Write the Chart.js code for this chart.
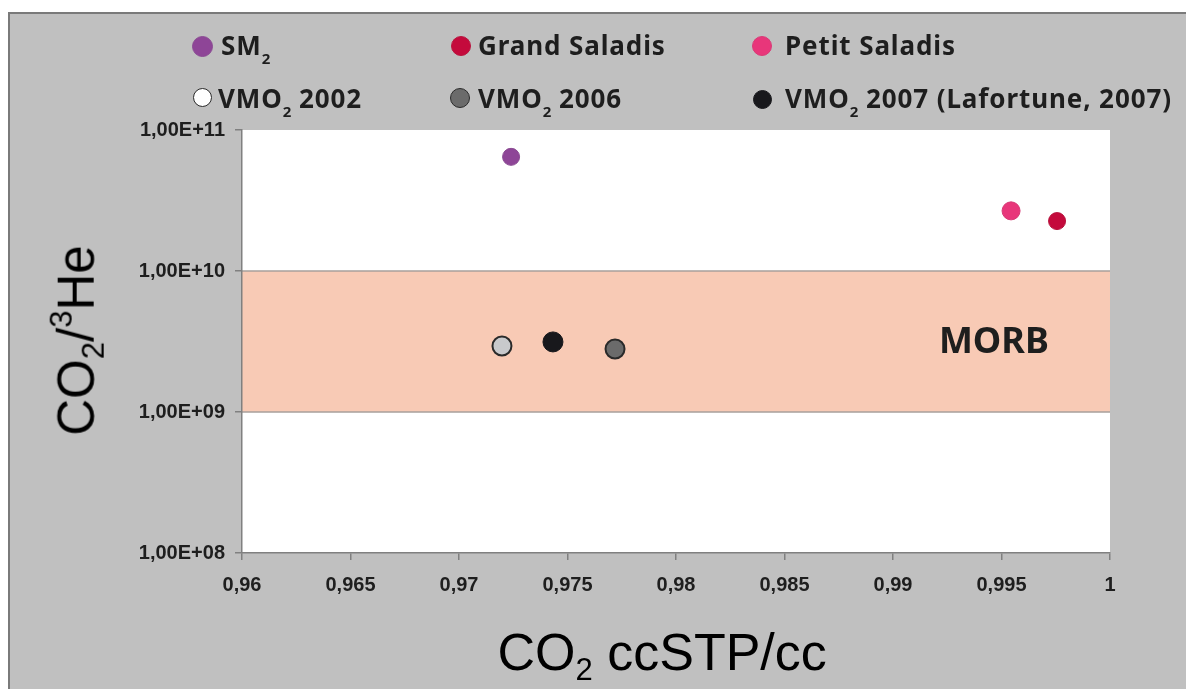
<!DOCTYPE html>
<html>
<head>
<meta charset="utf-8">
<script src="https://cdn.jsdelivr.net/npm/chart.js@4.4.1/dist/chart.umd.min.js"></script>
<style>
  html, body { margin: 0; padding: 0; background: #fff; overflow: hidden; }
  body { width: 1186px; height: 689px; position: relative; }
  #frame { position: absolute; left: 8px; top: 12px; right: 0; bottom: 0; background: #c0c0c0; border-left: 2px solid #7a7a7a; border-top: 2px solid #7a7a7a; }
  #wrap { position: absolute; left: 0; top: 0; width: 1186px; height: 689px; }
  #legend { position: absolute; left: 0; top: 0; font-family: "Noto Sans", "Open Sans", sans-serif; font-weight: 700; font-size: 26px; letter-spacing: 0.9px; color: #1e1e1e; }
  .dot { position: absolute; border-radius: 50%; box-sizing: border-box; }
  .label { position: absolute; white-space: nowrap; line-height: 30px; height: 30px; }
  #legend sub { font-size: 15px; vertical-align: -9px; line-height: 0; letter-spacing: 0; }
  .title { position: absolute; font-family: "Liberation Sans", Arial, sans-serif; color: #000; white-space: nowrap; line-height: 1; }
  .title sub { font-size: 31px; vertical-align: -10px; line-height: 0; }
  .title sup { font-size: 31px; vertical-align: 22px; line-height: 0; }
</style>
</head>
<body>
<div id="frame"></div>
<div id="wrap"><canvas id="co2chart"></canvas></div>
<div id="legend"></div>
<div class="title" id="xtitle">CO<sub>2</sub> ccSTP/cc</div>
<div class="title" id="ytitle">CO<sub>2</sub>/<sup>3</sup>He</div>
<script>
// data
const seriesNames = ['SM<sub>2</sub>', 'Grand Saladis', 'Petit Saladis', 'VMO<sub>2</sub> 2002', 'VMO<sub>2</sub> 2006', 'VMO<sub>2</sub> 2007 (Lafortune, 2007)'];
const seriesX = [0.9724, 0.99756, 0.99544, 0.97198, 0.97719, 0.97433];
const seriesY = [6.45e10, 2.26e10, 2.67e10, 2.94e9, 2.80e9, 3.14e9];
const xTicks = [0.96, 0.965, 0.97, 0.975, 0.98, 0.985, 0.99, 0.995, 1];
const xTickLabels = ['0,96', '0,965', '0,97', '0,975', '0,98', '0,985', '0,99', '0,995', '1'];
const yTicks = [1e8, 1e9, 1e10, 1e11];
const yTickLabels = ['1,00E+08', '1,00E+09', '1,00E+10', '1,00E+11'];
const morbRange = [1e9, 1e10];
const morbLabel = 'MORB';
const morbLabelAt = [0.99465, 3.1e9];

// styles
const pointFill = ['#8e4597', '#c40a3c', '#e8367a', '#c8c9cc', '#6b6b6b', '#18181c'];
const pointBorder = ['#8a4a92', '#b8143e', '#d83a76', '#2a2a2a', '#2a2a2a', '#18181c'];
const pointBorderW = [1, 1, 1, 2, 2, 1];
const pointRadius = [8.5, 8.5, 9, 9.5, 9.5, 10];
const legendFill = ['#8e4597', '#c40a3c', '#e8367a', '#ffffff', '#6b6b6b', '#18181c'];
// dot x, dot y, diameter, text x, text middle y
const legendPos = [
    [202, 46, 21, 221, 45], [461, 46, 20, 478, 45], [762, 46, 20, 785, 45],
    [202, 97, 19, 218, 98], [460, 98, 20, 478, 98], [762, 99, 19, 785, 98]
];

// legend (html so the subscripts look right)
const legendEl = document.getElementById('legend');
seriesNames.forEach((name, i) => {
    const [cx, cy, d, tx, ty] = legendPos[i];
    const dot = document.createElement('span');
    dot.className = 'dot';
    dot.style.left = (cx - d / 2) + 'px';
    dot.style.top = (cy - d / 2) + 'px';
    dot.style.width = d + 'px';
    dot.style.height = d + 'px';
    dot.style.background = legendFill[i];
    dot.style.border = '1.5px solid ' + (i === 3 ? '#2a2a2a' : pointBorder[i]);
    legendEl.appendChild(dot);
    const txt = document.createElement('span');
    txt.className = 'label';
    txt.style.left = tx + 'px';
    txt.style.top = (ty - 15) + 'px';
    txt.innerHTML = name;
    legendEl.appendChild(txt);
});

const xt = document.getElementById('xtitle');
xt.style.fontSize = '52px';
const yt = document.getElementById('ytitle');
yt.style.fontSize = '51px';

const bandPlugin = {
    id: 'morbBand',
    beforeDraw(chart) {
        const {ctx, chartArea: a, scales: {x, y}} = chart;
        ctx.save();
        ctx.fillStyle = '#ffffff';
        ctx.fillRect(a.left, a.top, a.right - a.left, a.bottom - a.top);
        const yTop = y.getPixelForValue(morbRange[1]);
        const yBot = y.getPixelForValue(morbRange[0]);
        ctx.fillStyle = '#f8cab5';
        ctx.fillRect(a.left, yTop, a.right - a.left, yBot - yTop);
        ctx.strokeStyle = '#a8a09c';
        ctx.lineWidth = 1.5;
        ctx.beginPath();
        ctx.moveTo(a.left, yTop); ctx.lineTo(a.right, yTop);
        ctx.moveTo(a.left, yBot); ctx.lineTo(a.right, yBot);
        ctx.stroke();
        ctx.restore();
    },
    afterDatasetsDraw(chart) {
        const {ctx, scales: {x, y}} = chart;
        ctx.save();
        ctx.font = 'bold 36px "Noto Sans", "Open Sans", sans-serif';
        ctx.fillStyle = '#1e1e1e';
        ctx.textAlign = 'center';
        ctx.textBaseline = 'middle';
        ctx.fillText(morbLabel, x.getPixelForValue(morbLabelAt[0]), y.getPixelForValue(morbLabelAt[1]));
        ctx.restore();
    }
};

// grey/black ones drawn first, coloured on top
const drawOrder = [3, 4, 5, 0, 1, 2];
const datasets = seriesNames.map((name, i) => ({
    label: name.replace(/<\/?sub>/g, ''),
    data: [{x: seriesX[i], y: seriesY[i]}],
    backgroundColor: pointFill[i],
    borderColor: pointBorder[i],
    borderWidth: pointBorderW[i],
    pointRadius: pointRadius[i],
    pointHoverRadius: pointRadius[i],
    order: -drawOrder.indexOf(i),
}));

let ctx = document.getElementById('co2chart');
const co2Chart = new Chart(ctx, {
    type: 'scatter',
    data: { datasets: datasets },
    options: {
        responsive: true,
        maintainAspectRatio: false,
        animation: false,
        layout: { padding: { left: 0, top: 130, right: 76, bottom: 0 } },
        plugins: {
            legend: { display: false },
            tooltip: { enabled: false },
        },
        scales: {
            x: {
                type: 'linear',
                min: 0.96,
                max: 1,
                afterBuildTicks: (scale) => { scale.ticks = xTicks.map(v => ({value: v})); },
                afterFit: (scale) => { scale.height = 136; },
                ticks: {
                    callback: (value, index) => xTickLabels[index],
                    color: '#1e1e1e',
                    font: { family: '"Liberation Sans", Arial, sans-serif', weight: 'bold', size: 20 },
                    padding: 13,
                    maxRotation: 0,
                    autoSkip: false,
                },
                grid: { display: true, drawOnChartArea: false, drawTicks: true, tickLength: 7, color: '#808080', lineWidth: 1.5 },
                border: { display: true, color: '#808080', width: 1.5 },
            },
            y: {
                type: 'logarithmic',
                min: 1e8,
                max: 1e11,
                afterBuildTicks: (scale) => { scale.ticks = yTicks.map(v => ({value: v})); },
                afterFit: (scale) => { scale.width = 242; },
                ticks: {
                    callback: (value, index) => yTickLabels[index],
                    color: '#1e1e1e',
                    font: { family: '"Liberation Sans", Arial, sans-serif', weight: 'bold', size: 20 },
                    padding: 10,
                    autoSkip: false,
                },
                grid: { display: true, drawOnChartArea: false, drawTicks: true, tickLength: 7, color: '#808080', lineWidth: 1.5 },
                border: { display: true, color: '#808080', width: 1.5 },
            },
        },
    },
    plugins: [bandPlugin],
});

// place titles after layout
function placeTitles() {
    const xw = xt.offsetWidth;
    xt.style.left = (662 - xw / 2) + 'px';
    xt.style.top = '626px';
    const yw = yt.offsetWidth, yh = yt.offsetHeight;
    yt.style.left = (76 - yw / 2) + 'px';
    yt.style.top = (340 - yh / 2) + 'px';
    yt.style.transform = 'rotate(-90deg)';
}
placeTitles();
</script>
</body>
</html>
